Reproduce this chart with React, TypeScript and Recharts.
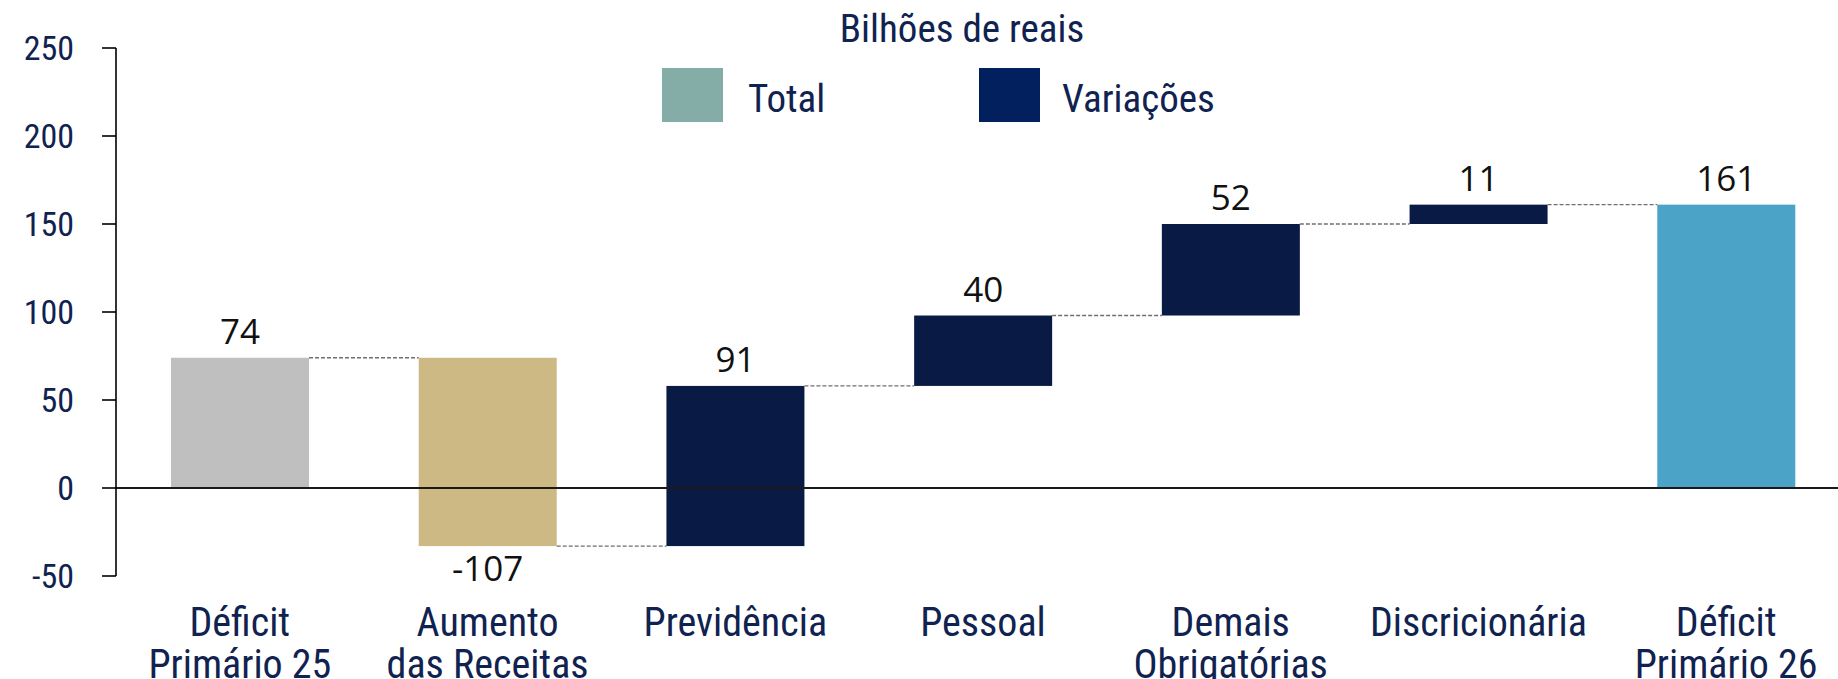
import { BarChart, Bar, XAxis, YAxis, ReferenceLine } from 'recharts'

const CATEGORIES = [
  'Déficit\nPrimário 25',
  'Aumento\ndas Receitas',
  'Previdência',
  'Pessoal',
  'Demais\nObrigatórias',
  'Discricionária',
  'Déficit\nPrimário 26',
]
const VALUES = [74, -107, 91, 40, 52, 11, 161]
const KINDS = ['inicial', 'receita', 'var', 'var', 'var', 'var', 'final']
const Y_TICKS = [-50, 0, 50, 100, 150, 200, 250]

const BAR_COLORS: Record<string, string> = {
  inicial: '#BFBFBF',
  receita: '#CCB983',
  var: '#091A44',
  final: '#4BA3C7',
}

const NAVY_TEXT = '#10224F'
const NARROW = '"Liberation Sans Narrow", "Roboto Condensed", "DejaVu Sans Condensed", Roboto, sans-serif'

const CHART_W = 1850
const CHART_H = 700
const Y_AXIS_W = 116
const PLOT_W = CHART_W - Y_AXIS_W
const STEP = PLOT_W / CATEGORIES.length

// waterfall: totals start at zero, variations start where the previous bar ended
let running = 0
const data = CATEGORIES.map((name, i) => {
  const v = VALUES[i]
  const kind = KINDS[i]
  let start = running
  let end = running + v
  if (kind === 'inicial' || kind === 'final') {
    start = 0
    end = v
  }
  running = end
  return { name, kind, value: v, end, range: [Math.min(start, end), Math.max(start, end)] }
})

function WaterfallBar(props: any) {
  const { x, y, width, height, payload, index } = props
  const top = Math.min(y, y + height)
  const h = Math.abs(height)
  const endY = payload.value >= 0 ? top : top + h
  const labelY = payload.value >= 0 ? top - 14 : top + h + 35
  return (
    <g>
      <rect x={x} y={top} width={width} height={h} fill={BAR_COLORS[payload.kind]} />
      {index < data.length - 1 && (
        <line
          x1={x + width}
          x2={x + STEP}
          y1={endY}
          y2={endY}
          stroke="#6F6F6F"
          strokeWidth={1.4}
          strokeDasharray="4 2"
        />
      )}
      <text
        x={x + width / 2}
        y={labelY}
        textAnchor="middle"
        fill="#111"
        fontSize={35}
        fontFamily='"Open Sans", sans-serif'
      >
        {payload.value}
      </text>
    </g>
  )
}

function CategoryTick({ x, y, payload }: any) {
  const lines = String(payload.value).split('\n')
  return (
    <text x={x} y={y} textAnchor="middle" fill={NAVY_TEXT} fontSize={40} fontFamily={NARROW}>
      {lines.map((l, i) => (
        <tspan key={i} x={x} dy={i === 0 ? 52 : 42}>
          {l}
        </tspan>
      ))}
    </text>
  )
}

export default function App() {
  return (
    <div
      style={{
        position: 'fixed',
        top: 0,
        left: 0,
        width: 1838,
        height: 679,
        overflow: 'hidden',
        background: '#fff',
      }}
    >
      <div
        style={{
          position: 'absolute',
          left: 762,
          top: 10,
          width: 400,
          textAlign: 'center',
          fontFamily: NARROW,
          fontSize: 39,
          lineHeight: 1,
          color: NAVY_TEXT,
        }}
      >
        Bilhões de reais
      </div>
      <div style={{ position: 'absolute', left: 662, top: 68, width: 61, height: 54, background: '#85ADA8' }} />
      <div
        style={{ position: 'absolute', left: 748, top: 80, fontFamily: NARROW, fontSize: 39, lineHeight: 1, color: NAVY_TEXT }}
      >
        Total
      </div>
      <div style={{ position: 'absolute', left: 979, top: 68, width: 61, height: 54, background: '#02205E' }} />
      <div
        style={{ position: 'absolute', left: 1062, top: 80, fontFamily: NARROW, fontSize: 39, lineHeight: 1, color: NAVY_TEXT }}
      >
        Variações
      </div>
      <div style={{ position: 'absolute', left: 0, top: 0 }}>
        <BarChart width={CHART_W} height={CHART_H} data={data} margin={{ top: 48, right: 0, bottom: 0, left: 0 }}>
          <ReferenceLine y={0} stroke="#1A1A1A" strokeWidth={2} />
          <XAxis
            dataKey="name"
            axisLine={false}
            tickLine={false}
            interval={0}
            height={124}
            tick={<CategoryTick />}
          />
          <YAxis
            width={Y_AXIS_W}
            domain={[-50, 250]}
            ticks={Y_TICKS}
            interval={0}
            axisLine={{ stroke: '#000', strokeWidth: 1.6 }}
            tickLine={{ stroke: '#000', strokeWidth: 1.6 }}
            tickSize={14}
            tickMargin={28}
            tick={{ fill: NAVY_TEXT, fontSize: 34, fontFamily: NARROW }}
          />
          <Bar dataKey="range" barSize={138} isAnimationActive={false} shape={<WaterfallBar />} />
        </BarChart>
      </div>
    </div>
  )
}
